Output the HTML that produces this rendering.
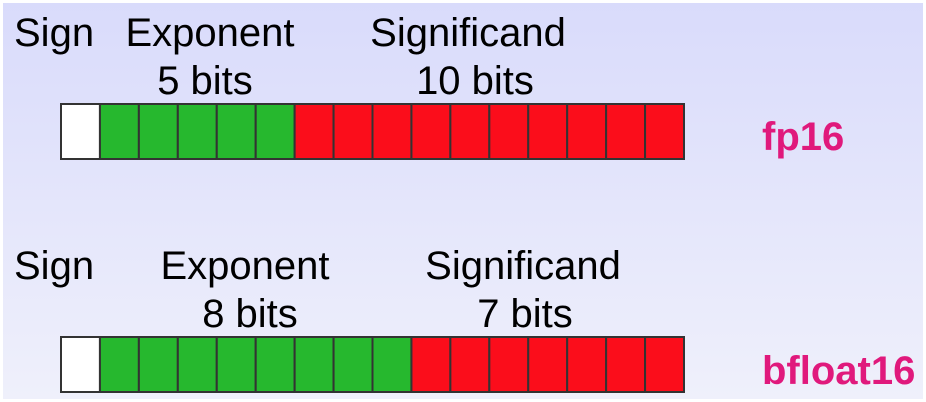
<!DOCTYPE html>
<html><head><meta charset="utf-8"><style>
html,body{margin:0;padding:0;background:#fff}
svg{display:block}
text{font-family:"Liberation Sans",sans-serif}
</style></head><body>
<svg id="fig" width="926" height="402" viewBox="0 0 926 402">
<defs><linearGradient id="bg" x1="0" y1="0" x2="0" y2="1">
<stop offset="0" stop-color="#d9dbfb"/><stop offset="1" stop-color="#eff0fb"/></linearGradient></defs>
<rect x="3" y="3" width="920" height="396" fill="url(#bg)"/>
<g font-size="40" fill="#000">
<text x="14" y="46">Sign</text>
<text x="210" y="46" text-anchor="middle">Exponent</text>
<text x="205" y="94" text-anchor="middle">5 bits</text>
<text x="468" y="46" text-anchor="middle">Significand</text>
<text x="475" y="94" text-anchor="middle">10 bits</text>
<text x="14" y="279">Sign</text>
<text x="245" y="279" text-anchor="middle">Exponent</text>
<text x="250" y="327" text-anchor="middle">8 bits</text>
<text x="523" y="279" text-anchor="middle">Significand</text>
<text x="525" y="327" text-anchor="middle">7 bits</text>
</g>
<g font-size="40" font-weight="bold" fill="#e0197c">
<text x="762" y="150">fp16</text>
<text x="762" y="384">bfloat16</text>
</g>
<g id="cells"></g>
</svg>
<script>
const formats = ["fp16", "bfloat16"];
const signBits = [1, 1];
const exponentBits = [5, 8];
const significandBits = [10, 7];
const x0 = 61, x1 = 684, rowTop = [104, 337], rowH = 55;
const g = document.getElementById('cells');
const ns = 'http://www.w3.org/2000/svg';
formats.forEach((f, r) => {
  const total = signBits[r] + exponentBits[r] + significandBits[r];
  const w = (x1 - x0) / total;
  for (let i = 0; i < total; i++) {
    const kind = i < signBits[r] ? 'sign' : (i < signBits[r] + exponentBits[r] ? 'exponent' : 'significand');
    const fill = kind === 'sign' ? '#ffffff' : kind === 'exponent' ? '#26b82e' : '#fb0d1b';
    const rc = document.createElementNS(ns, 'rect');
    rc.setAttribute('x', x0 + i * w);
    rc.setAttribute('y', rowTop[r]);
    rc.setAttribute('width', w);
    rc.setAttribute('height', rowH);
    rc.setAttribute('fill', fill);
    rc.setAttribute('stroke', '#333');
    rc.setAttribute('stroke-width', '2');
    
    
    g.appendChild(rc);
  }
});
</script>
</body></html>
